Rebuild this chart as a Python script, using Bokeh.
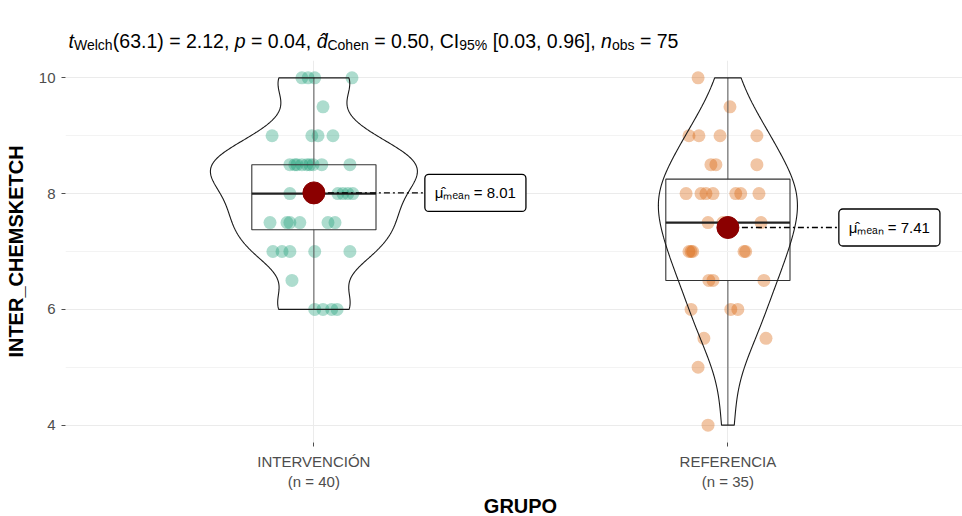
import numpy as np
from bokeh.plotting import figure
from bokeh.layouts import column
from bokeh.models import Range1d, FixedTicker, Label
from bokeh.core.properties import value
from bokeh.embed import file_html
from bokeh.resources import INLINE

# ---------------- data ----------------
groups = ["INTERVENCIÓN", "REFERENCIA"]
interv_values = [10, 10, 10, 10, 9.5, 9, 9, 9, 9,
                 8.5, 8.5, 8.5, 8.5, 8.5, 8.5, 8.5, 8.5, 8.5,
                 8, 8, 8, 8, 8, 8, 7.5, 7.5, 7.5, 7.5, 7.5, 7.5,
                 7, 7, 7, 7, 7, 6.5, 6, 6, 6, 6]
interv_jitter = [-0.029, 0.002, 0.092, -0.014, 0.022, -0.101, -0.005, 0.046, 0.010,
                 -0.058, -0.041, -0.029, -0.017, -0.002, 0.019, 0.087, -0.046, -0.010,
                 -0.058, -0.002, 0.058, 0.070, 0.082, 0.094,
                 -0.106, -0.065, -0.058, 0.034, 0.051, -0.034,
                 -0.099, -0.077, -0.058, 0.002, 0.087, -0.053,
                 0.002, 0.022, 0.043, 0.056]
ref_values = [10, 9.5, 9, 9, 9, 9, 8.5, 8.5, 8.5,
              8, 8, 8, 8, 8, 8, 8, 7.5, 7.5, 7.5, 7.5,
              7, 7, 7, 7, 7, 6.5, 6.5, 6.5, 6, 6, 6, 5.5, 5.5, 5, 4]
ref_jitter = [-0.072, 0.005, -0.094, -0.070, -0.019, 0.070, -0.041, -0.029, 0.070,
              -0.101, -0.053, -0.036, 0.019, 0.031, 0.075, -0.065,
              -0.048, 0.080, 0.000, -0.012,
              -0.094, -0.085, 0.039, -0.089, 0.043,
              -0.046, 0.087, -0.036, -0.089, 0.007, 0.024,
              -0.058, 0.092, -0.072, -0.048]
y_ticks = [4, 6, 8, 10]
y_minor_ticks = [5, 7, 9]
x_title = "GRUPO"
y_title = "INTER_CHEMSKETCH"
t_df = 63.1
t_stat = 2.12
p_value = 0.04
d_cohen = 0.50
ci95 = [0.03, 0.96]

# ---------------- styling ----------------
FONT = "Liberation Sans"
colors = ["#1B9E77", "#D95F02"]
W = 962
LEFT = 65
TITLE_H = 60
FRAME_H = 382
BOTTOM = 52
MAIN_H = FRAME_H + BOTTOM
XT_H = 516 - TITLE_H - MAIN_H
X0 = 0.4
X1 = X0 + (W - LEFT) / 414.0
Y0, Y1 = 3.7, 10.3

p = figure(width=W, height=MAIN_H, x_range=Range1d(X0, X1), y_range=Range1d(Y0, Y1),
           output_backend="svg", toolbar_location=None,
           min_border_left=LEFT, min_border_right=0, min_border_top=0, min_border_bottom=BOTTOM)
p.outline_line_color = None
p.background_fill_color = "white"
p.border_fill_color = "white"

all_groups = [interv_values, ref_values]
p.xaxis.ticker = FixedTicker(ticks=[1, 2])
p.xaxis.major_label_overrides = {i + 1: f"{g}\n(n = {len(v)})" for i, (g, v) in enumerate(zip(groups, all_groups))}
p.yaxis.ticker = FixedTicker(ticks=y_ticks, minor_ticks=y_minor_ticks)

for ax in (p.xaxis[0], p.yaxis[0]):
    ax.axis_line_color = None
    ax.major_tick_line_color = "#4D4D4D"
    ax.major_tick_in = 0
    ax.major_tick_out = 4
    ax.minor_tick_line_color = None
    ax.major_label_text_font = FONT
    ax.major_label_text_font_size = "15px"
    ax.major_label_text_color = "#4D4D4D"
    ax.axis_label_text_font = FONT
    ax.axis_label_text_font_size = "20px"
    ax.axis_label_text_font_style = "bold"
    ax.axis_label_text_color = "black"
p.yaxis.axis_label = y_title
p.xaxis.major_label_standoff = 6
p.yaxis.major_label_standoff = 6
p.yaxis.axis_label_standoff = 9

p.xgrid.grid_line_color = "#EBEBEB"
p.ygrid.grid_line_color = "#EBEBEB"
p.ygrid.minor_grid_line_color = "#F3F3F3"


def nrd0(x):
    x = np.asarray(x, float)
    sd = np.std(x, ddof=1)
    q75, q25 = np.percentile(x, [75, 25])
    lo = min(sd, (q75 - q25) / 1.34)
    if lo <= 0:
        lo = sd
    return 0.9 * lo * len(x) ** -0.2


def density(x, grid):
    x = np.asarray(x, float)
    bw = nrd0(x)
    z = (grid[:, None] - x[None, :]) / bw
    return np.exp(-0.5 * z ** 2).sum(1) / (len(x) * bw * np.sqrt(2 * np.pi))


# violin widths scaled by density x count (areas proportional to group size)
grids, dens = [], []
for vals in all_groups:
    g = np.linspace(min(vals), max(vals), 256)
    grids.append(g)
    dens.append(density(vals, g) * len(vals))
dmax = max(d.max() for d in dens)

for i, (vals, jit) in enumerate(zip(all_groups, [interv_jitter, ref_jitter])):
    c = i + 1
    col = colors[i]
    v = np.asarray(vals, float)
    p.scatter(x=[c + j for j in jit], y=vals, size=13, fill_color=col, fill_alpha=0.36,
              line_color=None)
    q1, med, q3 = np.percentile(v, [25, 50, 75])
    iqr = q3 - q1
    lo_w = v[v >= q1 - 1.5 * iqr].min()
    hi_w = v[v <= q3 + 1.5 * iqr].max()
    p.segment(x0=[c, c], y0=[q3, q1], x1=[c, c], y1=[hi_w, lo_w], line_color="#555555", line_width=1)
    p.quad(left=[c - 0.15], right=[c + 0.15], bottom=[q1], top=[q3], fill_color=None,
           line_color="#333333", line_width=1.1)
    p.segment(x0=[c - 0.15], y0=[med], x1=[c + 0.15], y1=[med], line_color="#222222", line_width=2.2)
    hw = 0.25 * dens[i] / dmax
    g = grids[i]
    xs = np.concatenate([c + hw, (c - hw)[::-1]])
    ys = np.concatenate([g, g[::-1]])
    p.patch(x=xs, y=ys, fill_color=None, line_color="#1A1A1A", line_width=1.1)
    m = v.mean()
    lx = c + 0.268
    p.segment(x0=[c], y0=[m], x1=[lx], y1=[m], line_color="black", line_width=1.3, line_dash="6 3 2 3")
    p.scatter(x=[c], y=[m], size=22, fill_color="#8B0000", line_color="#8B0000")
    p.add_layout(Label(x=lx, y=m, text=f"\u03bc\u0302\u2098\u2091\u2090\u2099 = {m:.2f}",
                       text_font=FONT, text_font_size="15px", text_color="black",
                       text_baseline="middle", text_align="left",
                       background_fill_color="white", border_line_color="black",
                       border_line_width=1.3, padding=10, border_radius=4))

# ---------------- subtitle strip with sub/italics ----------------
AW = {'0': .556, '1': .556, '2': .556, '3': .556, '4': .556, '5': .556, '6': .556, '7': .556,
      '8': .556, '9': .556, ' ': .278, ',': .278, '.': .278, '(': .333, ')': .333, '=': .584,
      '[': .278, ']': .278, '%': .889, 'W': .944, 'e': .556, 'l': .222, 'c': .5, 'h': .556,
      'C': .722, 'o': .556, 'n': .556, 'I': .278, 'b': .556, 's': .5, 't': .278, 'p': .556,
      'd': .556, '\u0302': 0.0}


def tw(s, size):
    return sum(AW.get(ch, .556) for ch in s) * size


def strip(height):
    s = figure(width=W, height=height, x_range=Range1d(LEFT, W), y_range=Range1d(0, height),
               output_backend="svg", toolbar_location=None, x_axis_type=None, y_axis_type=None,
               min_border_left=LEFT, min_border_right=0, min_border_top=0, min_border_bottom=0)
    s.outline_line_color = None
    s.xgrid.visible = False
    s.ygrid.visible = False
    return s


tp = strip(TITLE_H)
n_obs = len(interv_values) + len(ref_values)
runs = [("t", "it"), ("Welch", "sub"), (f"({t_df}) = {t_stat:.2f}, ", "rm"),
        ("p", "it"), (f" = {p_value:.2f}, ", "rm"),
        ("d\u0302", "it"), ("Cohen", "sub"), (f" = {d_cohen:.2f}, ", "rm"),
        ("CI", "rm"), ("95%", "sub"), (f" [{ci95[0]:.2f}, {ci95[1]:.2f}], ", "rm"),
        ("n", "it"), ("obs", "sub"), (f" = {n_obs}", "rm")]
MAIN, SUB = 19.5, 14
x_start = 68
y_base = TITLE_H - 40
y_sub = TITLE_H - 44
cum = 0.0
for txt, kind in runs:
    size = SUB if kind == "sub" else MAIN
    lead = len(txt) - len(txt.lstrip(" "))
    shown = txt.strip(" ")
    off = x_start + cum + tw(" " * lead, size)
    tp.text(x=[off], y=[y_sub if kind == "sub" else y_base], text=[shown],
            text_font=value(FONT), text_font_size=f"{size}px",
            text_font_style="italic" if kind == "it" else "normal",
            text_color="black", text_baseline="alphabetic", text_align="left")
    cum += tw(txt, size)

bp = strip(XT_H)
bp.text(x=[520], y=[XT_H - 11], text=[x_title], text_font=value(FONT), text_font_size="20px",
        text_font_style="bold", text_color="black", text_baseline="middle", text_align="center")

layout = column(tp, p, bp, spacing=0)
open("out.html", "w").write(file_html(layout, INLINE))
